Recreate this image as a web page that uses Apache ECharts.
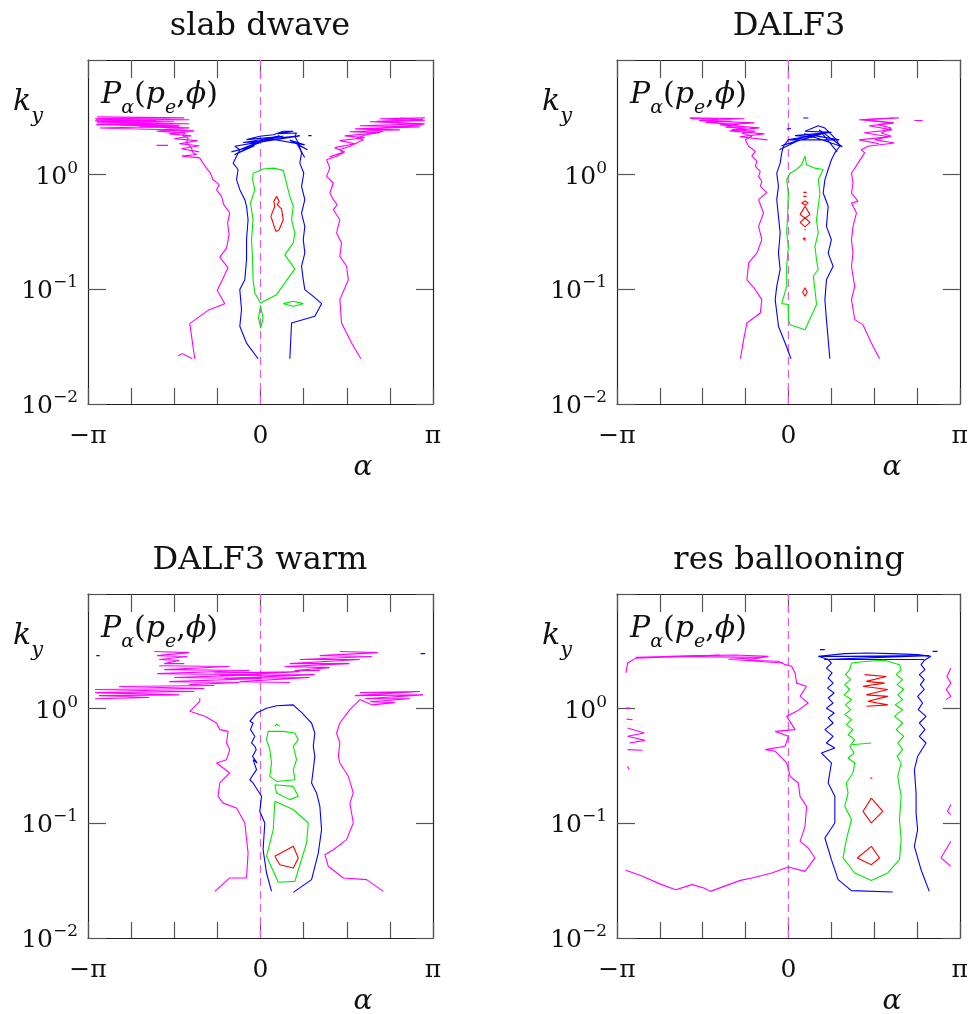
<!DOCTYPE html>
<html>
<head>
<meta charset="utf-8">
<title>P_alpha(p_e, phi) cross-phase spectra</title>
<script src="https://cdn.jsdelivr.net/npm/echarts/dist/echarts.min.js"></script>
<style>
  html, body { margin: 0; padding: 0; background: #fff; }
  #chart { width: 971px; height: 1014px; }
</style>
</head>
<body>
<div id="chart"></div>
<script>
// ---- axes: alpha in units of pi, k_y on a log scale ----
const PANEL_TITLES = ['slab dwave', 'DALF3', 'DALF3 warm', 'res ballooning'];
const ALPHA_MIN = -1, ALPHA_MAX = 1, ALPHA_STEP = 0.25;
const ALPHA_TICK_LABELS = { '-1': '−π', '0': '0', '1': 'π' };
const KY_MIN = 0.01, KY_MAX = 10;
const KY_TICK_LABELS = { '-2': '{n|10}{s|−2}', '-1': '{n|10}{s|−1}', '0': '{n|10}{s|0}', '1': '' };
const ZERO_LINE = [[0, 0.01], [0, 10]];

// ---- slab dwave ----
const slabMagentaLeft = [[-0.381,0.0248],[-0.410,0.0502],[-0.304,0.0656],[-0.207,0.0750],[-0.251,0.0978],[-0.221,0.121],[-0.188,0.154],[-0.236,0.191],[-0.197,0.229],[-0.182,0.300],[-0.191,0.379],[-0.178,0.463],[-0.213,0.548],[-0.226,0.647],[-0.255,0.740],[-0.240,0.818],[-0.275,0.904],[-0.290,1.03],[-0.313,1.14],[-0.333,1.26],[-0.352,1.40],[-0.455,1.45],[-0.370,1.50],[-0.391,1.55],[-0.400,1.71],[-0.429,1.89],[-0.420,2.09],[-0.449,2.19],[-0.439,2.31],[-0.603,2.39],[-0.439,2.44],[-0.932,2.55],[-0.468,2.64],[-0.952,2.73],[-0.507,2.78],[-0.952,2.92],[-0.603,2.97],[-0.952,3.05],[-0.778,3.12]];
const slabMagentaHatchLeft = [[-0.948,3.19],[-0.442,3.13],[-0.959,3.07],[-0.413,3.01],[-0.959,2.95],[-0.500,2.89],[-0.948,2.83],[-0.413,2.78],[-0.820,2.72],[-0.471,2.67],[-0.703,2.61],[-0.413,2.56],[-0.587,2.46],[-0.384,2.41],[-0.529,2.27],[-0.401,2.18],[-0.500,2.06],[-0.366,1.98],[-0.471,1.86],[-0.355,1.79],[-0.459,1.68],[-0.355,1.58]];
const slabMagentaFoot = [[-0.478,0.0264],[-0.453,0.0275],[-0.395,0.0248]];
const slabMagentaDash = [[-0.603,1.80],[-0.536,1.80]];
const slabMagentaRight = [[0.582,0.0248],[0.528,0.034],[0.470,0.0509],[0.460,0.0813],[0.509,0.121],[0.499,0.159],[0.460,0.194],[0.470,0.254],[0.441,0.310],[0.460,0.405],[0.422,0.495],[0.445,0.548],[0.422,0.605],[0.402,0.692],[0.422,0.846],[0.383,0.967],[0.402,1.14],[0.383,1.35],[0.441,1.45],[0.480,1.55],[0.460,1.65],[0.518,1.77],[0.596,2.02],[0.557,2.09],[0.615,2.23],[0.712,2.39],[0.615,2.47],[0.809,2.64],[0.944,2.73],[0.673,2.92],[0.944,3.02],[0.809,3.12]];
const slabMagentaHatchRight = [[0.953,3.13],[0.692,3.07],[0.953,2.95],[0.634,2.89],[0.953,2.78],[0.576,2.67],[0.924,2.61],[0.547,2.51],[0.808,2.46],[0.517,2.37],[0.692,2.32],[0.488,2.18],[0.605,2.10],[0.459,1.98],[0.547,1.86],[0.430,1.72],[0.488,1.58],[0.401,1.43]];
const slabBlue = [[-0.014,0.0248],[-0.081,0.034],[-0.120,0.0476],[-0.110,0.0665],[-0.120,0.0995],[-0.091,0.121],[-0.081,0.181],[-0.081,0.271],[-0.072,0.405],[-0.081,0.530],[-0.091,0.605],[-0.120,0.740],[-0.139,0.904],[-0.130,1.11],[-0.159,1.26],[-0.139,1.45],[-0.120,1.65],[-0.149,1.77],[0.015,1.95],[-0.101,1.91],[0.132,2.16],[-0.081,2.02],[-0.004,2.16],[0.074,2.23],[0.132,2.39],[0.190,2.39],[0.093,2.28],[0.209,2.31],[0.199,2.16],[0.219,1.89],[0.238,1.55],[0.228,1.26],[0.251,1.03],[0.238,0.791],[0.257,0.605],[0.238,0.463],[0.257,0.354],[0.248,0.271],[0.257,0.207],[0.238,0.159],[0.248,0.121],[0.257,0.0995],[0.306,0.0869],[0.354,0.0750],[0.315,0.0582],[0.180,0.0509],[0.170,0.0248]];
const slabBlueHatch = [[-0.169,1.58],[-0.035,1.79],[-0.151,1.49],[0.006,1.98],[-0.122,1.65],[0.110,2.18],[-0.064,1.86],[0.227,2.18],[0.052,2.06],[0.256,1.82],[0.169,2.01],[0.273,1.65],[0.215,1.82],[0.256,1.41]];
const slabBlueDash = [[0.277,2.19],[0.296,2.19]];
const slabGreen = [[-0.043,1.03],[0.015,1.12],[0.074,1.14],[0.132,1.09],[0.141,0.967],[0.155,0.791],[0.170,0.647],[0.190,0.530],[0.180,0.405],[0.199,0.310],[0.190,0.254],[0.141,0.200],[0.199,0.151],[0.093,0.0898],[0,0.0760],[-0.033,0.0929],[-0.043,0.121],[-0.046,0.181],[-0.052,0.271],[-0.043,0.405],[-0.058,0.566],[-0.033,0.740],[-0.046,0.904],[-0.043,1.03]];
const slabGreenDiamond = [[0.132,0.0750],[0.190,0.0786],[0.248,0.0750],[0.190,0.0711],[0.132,0.0750]];
const slabGreenDrop = [[0,0.0711],[0.015,0.0563],[0.002,0.0460],[-0.012,0.0563],[0,0.0711]];
const slabRed = [[0.093,0.647],[0.108,0.585],[0.097,0.548],[0.122,0.502],[0.132,0.405],[0.108,0.331],[0.089,0.320],[0.070,0.392],[0.060,0.433],[0.083,0.530],[0.077,0.585],[0.093,0.647]];

// ---- DALF3 ----
const dalfMagentaLeft = [[-0.571,3.08],[-0.406,3.05],[-0.522,2.97],[-0.329,2.92],[-0.484,2.86],[-0.290,2.73],[-0.368,2.60],[-0.251,2.55],[-0.329,2.47],[-0.193,2.39],[-0.271,2.31],[-0.213,2.16],[-0.251,2.02],[-0.232,1.77],[-0.193,1.60],[-0.213,1.45],[-0.184,1.31],[-0.193,1.18],[-0.164,1.07],[-0.174,0.967],[-0.155,0.875],[-0.164,0.791],[-0.126,0.701],[-0.174,0.605],[-0.145,0.463],[-0.174,0.354],[-0.155,0.271],[-0.184,0.207],[-0.232,0.170],[-0.242,0.121],[-0.193,0.0993],[-0.155,0.0813],[-0.164,0.0622],[-0.242,0.0509],[-0.261,0.0364],[-0.280,0.0248]];
const dalfMagentaHatchLeft = [[-0.576,3.13],[-0.256,3.07],[-0.517,2.95],[-0.198,2.83],[-0.401,2.72],[-0.169,2.56],[-0.343,2.41],[-0.140,2.27],[-0.285,2.14],[-0.122,2.01]];
const dalfMagentaRight = [[0.532,0.0248],[0.484,0.034],[0.435,0.0492],[0.387,0.0544],[0.368,0.0813],[0.387,0.106],[0.368,0.159],[0.377,0.207],[0.368,0.271],[0.377,0.354],[0.397,0.463],[0.368,0.566],[0.406,0.585],[0.368,0.692],[0.377,0.846],[0.368,1.03],[0.406,1.26],[0.445,1.55],[0.425,1.65],[0.464,1.77],[0.619,1.89],[0.503,2.02],[0.600,2.16],[0.542,2.31],[0.600,2.55],[0.522,2.73],[0.609,2.82],[0.445,3.02],[0.619,3.12]];
const dalfMagentaHatchRight = [[0.645,3.13],[0.413,3.01],[0.616,2.83],[0.471,2.67],[0.605,2.46],[0.442,2.32],[0.587,2.14],[0.413,2.01],[0.529,1.86]];
const dalfMagentaDash = [[0.735,2.97],[0.783,2.97]];
const dalfBlue = [[0.015,0.0248],[-0.019,0.034],[-0.058,0.0476],[-0.077,0.0813],[-0.068,0.106],[-0.048,0.149],[-0.058,0.207],[-0.048,0.310],[-0.058,0.433],[-0.068,0.605],[-0.058,0.791],[-0.068,1.03],[-0.048,1.26],[-0.039,1.55],[-0.029,1.77],[0,2.02],[0.155,2.13],[0.039,2.19],[0.251,2.34],[0.097,2.39],[0.174,2.67],[0.213,2.55],[0.251,2.23],[0.280,2.02],[0.300,1.77],[0.271,1.55],[0.251,1.35],[0.232,1.11],[0.213,0.904],[0.203,0.692],[0.232,0.530],[0.222,0.354],[0.251,0.271],[0.232,0.207],[0.261,0.159],[0.222,0.121],[0.213,0.0813],[0.222,0.0544],[0.242,0.0248]];
const dalfBlueHatch = [[-0.052,1.65],[0.064,2.01],[-0.041,1.79],[0.238,2.37],[0.006,2.01],[0.297,2.01],[0.093,2.27],[0.314,1.75],[0.180,2.46],[0.285,1.58]];
const dalfBlueDashTop = [[0.087,3.12],[0.116,3.12]];
const dalfBlueDashLeft = [[-0.010,2.50],[0.015,2.53]];
const dalfGreen = [[-0.039,0.0750],[-0.010,0.106],[-0.010,0.159],[0,0.237],[-0.010,0.310],[-0.004,0.463],[0,0.692],[-0.010,0.904],[0.010,1.03],[0.048,1.11],[0.077,1.22],[0.097,1.45],[0.106,1.22],[0.155,1.14],[0.203,1.11],[0.174,0.904],[0.184,0.692],[0.174,0.530],[0.164,0.405],[0.174,0.310],[0.155,0.237],[0.164,0.181],[0.174,0.149],[0.145,0.130],[0.155,0.0995],[0.164,0.0737],[0.097,0.0445],[0.010,0.0492],[0,0.0544],[0,0.0737],[-0.039,0.0750]];
const dalfRedDashA = [[0.087,0.701],[0.106,0.701]];
const dalfRedDashB = [[0.087,0.647],[0.106,0.647]];
const dalfRedLoop = [[0.077,0.566],[0.097,0.589],[0.116,0.566],[0.097,0.544],[0.077,0.566]];
const dalfRedChain = [[0.097,0.530],[0.126,0.448],[0.097,0.419],[0.126,0.384],[0.097,0.350],[0.068,0.384],[0.097,0.419],[0.068,0.448],[0.097,0.530]];
const dalfRedDot = [[0.093,0.331],[0.101,0.331]];
const dalfRedRing = [[0.085,0.275],[0.097,0.282],[0.104,0.275],[0.097,0.267],[0.085,0.275]];
const dalfRedDrop = [[0.097,0.103],[0.110,0.0943],[0.097,0.0869],[0.083,0.0943],[0.097,0.103]];

// ---- DALF3 warm ----
const warmBandLowerLeft = [[-0.267,1.59],[-0.820,1.56],[-0.326,1.50],[-0.959,1.47],[-0.384,1.41],[-0.959,1.38],[-0.471,1.32],[-0.936,1.30],[-0.645,1.25],[-0.959,1.22]];
const warmBandMidLeft = [[-0.587,2.37],[-0.180,2.33],[-0.558,2.19],[-0.064,2.15],[-0.599,2.02],[-0.006,1.98],[-0.500,1.87],[0.006,1.83],[-0.529,1.72],[-0.122,1.69],[-0.413,1.62]];
const warmBandUpperLeft = [[-0.616,3.15],[-0.413,3.08],[-0.599,2.90],[-0.424,2.85],[-0.587,2.68],[-0.471,2.63],[-0.558,2.47],[-0.442,2.47]];
const warmBandMiddle = [[-0.267,2.06],[0.227,2.10],[-0.238,1.94],[0.314,1.98],[-0.209,1.83],[0.285,1.87],[-0.122,1.72],[0.169,1.69]];
const warmBandUpperRight = [[0.459,3.15],[0.680,3.08],[0.343,2.90],[0.645,2.85],[0.227,2.68],[0.576,2.68],[0.169,2.47],[0.517,2.47],[0.140,2.33],[0.401,2.28],[0.198,2.15],[0.343,2.15]];
const warmBandLowerRight = [[0.576,1.38],[0.924,1.41],[0.547,1.30],[0.942,1.32],[0.605,1.22],[0.866,1.22],[0.634,1.15],[0.779,1.13],[0.645,1.08]];
const warmMagentaLeft = [[-0.352,1.24],[-0.352,1.16],[-0.410,0.948],[-0.323,0.857],[-0.255,0.750],[-0.236,0.656],[-0.188,0.634],[-0.197,0.502],[-0.178,0.439],[-0.197,0.359],[-0.255,0.336],[-0.178,0.275],[-0.236,0.225],[-0.246,0.172],[-0.217,0.150],[-0.139,0.136],[-0.091,0.1007],[-0.072,0.0551],[-0.081,0.0334],[-0.178,0.0334],[-0.265,0.0255]];
const warmMagentaRight = [[0.645,1.08],[0.576,1.20],[0.557,1.12],[0.518,0.98],[0.460,0.750],[0.441,0.614],[0.460,0.502],[0.451,0.384],[0.460,0.336],[0.509,0.257],[0.538,0.184],[0.518,0.150],[0.538,0.1007],[0.499,0.0721],[0.422,0.0589],[0.373,0.0533],[0.393,0.0422],[0.480,0.0334],[0.615,0.0323],[0.712,0.0255]];
const warmBlueDashLeft = [[-0.952,2.90],[-0.932,2.90]];
const warmBlueDashRight = [[0.928,3.02],[0.954,3.02]];
const warmBlue = [[0.064,0.0255],[0.035,0.0369],[0.015,0.0589],[0.025,0.1007],[-0.004,0.127],[0.006,0.172],[-0.043,0.225],[-0.062,0.240],[-0.023,0.294],[-0.043,0.359],[-0.019,0.336],[-0.046,0.384],[-0.025,0.439],[-0.033,0.470],[-0.052,0.502],[-0.033,0.574],[-0.058,0.656],[-0.043,0.750],[-0.062,0.776],[-0.023,0.916],[0.035,1.01],[0.093,1.06],[0.190,1.08],[0.219,0.98],[0.238,0.929],[0.277,0.802],[0.296,0.750],[0.315,0.614],[0.306,0.470],[0.315,0.384],[0.306,0.294],[0.296,0.225],[0.325,0.184],[0.344,0.141],[0.354,0.0881],[0.335,0.0551],[0.296,0.0323],[0.190,0.0250]];
const warmGreenUpper = [[0.044,0.634],[0.132,0.634],[0.199,0.614],[0.219,0.537],[0.190,0.470],[0.209,0.359],[0.190,0.294],[0.199,0.240],[0.093,0.232],[0.054,0.257],[0.064,0.336],[0.054,0.439],[0.035,0.537],[0.044,0.634]];
const warmGreenTick = [[0.083,0.701],[0.093,0.735],[0.112,0.701]];
const warmGreenMiddle = [[0.083,0.217],[0.190,0.210],[0.219,0.172],[0.170,0.161],[0.093,0.184],[0.083,0.217]];
const warmGreenLower = [[0.083,0.156],[0.190,0.132],[0.277,0.1007],[0.267,0.0674],[0.199,0.0312],[0.103,0.0306],[0.035,0.0516],[0.074,0.0881],[0.083,0.156]];
const warmRed = [[0.083,0.0516],[0.190,0.0630],[0.219,0.0499],[0.190,0.0408],[0.112,0.0436],[0.083,0.0516]];

// ---- res ballooning ----
const resMagentaMain = [[-0.948,2.05],[-0.938,2.50],[-0.890,2.76],[-0.880,2.86],[-0.503,2.90],[-0.309,2.94],[-0.116,2.86],[-0.251,2.64],[-0.058,2.59],[-0.019,2.42],[0.019,2.34],[0.039,2.05],[0.048,1.67],[0.106,1.57],[0.068,1.28],[0.116,1.12],[0.048,0.948],[-0.010,0.857],[0.039,0.656],[-0.077,0.634],[0,0.574],[-0.019,0.470],[-0.135,0.439],[-0.077,0.425],[-0.010,0.336],[0.010,0.257],[0.058,0.225],[0.068,0.172],[0.106,0.141],[0.097,0.0941],[0.068,0.0697],[0.116,0.0610],[0.155,0.0499],[0.097,0.0381],[0,0.0416],[-0.097,0.0369],[-0.213,0.0334],[-0.280,0.0318],[-0.348,0.0292],[-0.455,0.0255],[-0.493,0.0273],[-0.561,0.0292],[-0.658,0.0264],[-0.754,0.0298],[-0.851,0.0345],[-0.948,0.0389]];
const resMagentaTopRow = [[-0.890,2.80],[-0.400,2.92],[-0.700,2.86],[-0.150,2.80],[-0.350,2.70],[-0.030,2.50]];
const resMagentaEdgeHatch = [[-0.938,0.678],[-0.841,0.614],[-0.938,0.574],[-0.836,0.529],[-0.928,0.502]];
const resMagentaEdgeA = [[-0.948,1.01],[-0.923,1.01]];
const resMagentaEdgeB = [[-0.944,0.81],[-0.909,0.80]];
const resMagentaEdgeC = [[-0.938,0.439],[-0.851,0.434]];
const resMagentaEdgeD = [[-0.938,0.314],[-0.928,0.294]];
const resMagentaRightHatch = [[0.948,2.26],[0.925,1.91],[0.948,1.67],[0.921,1.47],[0.948,1.28],[0.919,1.20]];
const resMagentaRightA = [[0.948,0.146],[0.928,0.127],[0.948,0.119]];
const resMagentaRightB = [[0.948,0.0697],[0.890,0.0499],[0.948,0.0422]];
const resBlue = [[0.609,0.0252],[0.368,0.0259],[0.290,0.0323],[0.251,0.0482],[0.213,0.0745],[0.271,0.1007],[0.271,0.172],[0.232,0.225],[0.251,0.336],[0.193,0.410],[0.271,0.454],[0.222,0.502],[0.261,0.574],[0.213,0.656],[0.261,0.750],[0.232,0.830],[0.267,0.916],[0.222,1.01],[0.261,1.12],[0.232,1.24],[0.267,1.37],[0.228,1.51],[0.261,1.67],[0.232,1.85],[0.255,2.05],[0.222,2.26],[0.251,2.50],[0.232,2.68],[0.174,2.86],[0.329,3.02],[0.464,3.06],[0.600,3.02],[0.754,2.96],[0.832,2.86],[0.793,2.64],[0.774,2.42],[0.797,2.19],[0.764,1.98],[0.793,1.79],[0.770,1.62],[0.793,1.47],[0.754,1.28],[0.783,1.12],[0.758,0.98],[0.803,0.857],[0.764,0.750],[0.797,0.656],[0.764,0.574],[0.803,0.502],[0.754,0.384],[0.735,0.294],[0.745,0.184],[0.745,0.123],[0.754,0.0881],[0.735,0.0630],[0.774,0.0394],[0.822,0.0255]];
const resBlueTopRow = [[0.180,2.85],[0.820,2.90],[0.209,2.68],[0.791,2.68]];
const resBlueDashLeft = [[0.184,3.27],[0.213,3.27]];
const resBlueDashRight = [[0.841,3.16],[0.870,3.16]];
const resGreen = [[0.368,2.50],[0.464,2.59],[0.561,2.64],[0.648,2.42],[0.658,2.19],[0.629,1.98],[0.667,1.79],[0.634,1.62],[0.673,1.47],[0.638,1.32],[0.667,1.20],[0.623,1.08],[0.667,0.98],[0.619,0.857],[0.667,0.750],[0.629,0.656],[0.673,0.574],[0.638,0.502],[0.667,0.439],[0.634,0.384],[0.658,0.336],[0.638,0.257],[0.658,0.172],[0.648,0.108],[0.658,0.0721],[0.648,0.0482],[0.580,0.0369],[0.484,0.0318],[0.387,0.0369],[0.319,0.0499],[0.338,0.0721],[0.368,0.108],[0.329,0.141],[0.348,0.184],[0.338,0.225],[0.377,0.275],[0.387,0.336],[0.348,0.371],[0.383,0.410],[0.358,0.470],[0.387,0.537],[0.348,0.593],[0.377,0.656],[0.338,0.725],[0.368,0.802],[0.329,0.887],[0.364,0.98],[0.333,1.08],[0.368,1.20],[0.325,1.32],[0.358,1.47],[0.329,1.62],[0.364,1.79],[0.333,1.98],[0.358,2.19],[0.368,2.50]];
const resGreenDash = [[0.368,0.485],[0.484,0.502]];
const resRedHatch = [[0.445,1.98],[0.571,1.91],[0.455,1.73],[0.561,1.67],[0.435,1.57],[0.580,1.47],[0.455,1.32],[0.580,1.28],[0.464,1.16],[0.580,1.08],[0.455,1.05]];
const resRedDot = [[0.478,0.248],[0.490,0.248]];
const resRedUpper = [[0.484,0.166],[0.551,0.127],[0.484,0.1007],[0.435,0.127],[0.484,0.166]];
const resRedLower = [[0.484,0.0630],[0.532,0.0499],[0.484,0.0436],[0.402,0.0499],[0.484,0.0630]];

// ---- contour groups per panel (colour order: lowest to highest level) ----
const COLORS = { magenta: '#ff00ff', blue: '#0000ff', green: '#00e800', red: '#ff0000' };
const PANEL_CONTOURS = [
  { magenta: [slabMagentaLeft, slabMagentaHatchLeft, slabMagentaFoot, slabMagentaDash, slabMagentaRight, slabMagentaHatchRight],
    blue: [slabBlue, slabBlueHatch, slabBlueDash],
    green: [slabGreen, slabGreenDiamond, slabGreenDrop],
    red: [slabRed] },
  { magenta: [dalfMagentaLeft, dalfMagentaHatchLeft, dalfMagentaRight, dalfMagentaHatchRight, dalfMagentaDash],
    blue: [dalfBlue, dalfBlueHatch, dalfBlueDashTop, dalfBlueDashLeft],
    green: [dalfGreen],
    red: [dalfRedDashA, dalfRedDashB, dalfRedLoop, dalfRedChain, dalfRedDot, dalfRedRing, dalfRedDrop] },
  { magenta: [warmBandLowerLeft, warmBandMidLeft, warmBandUpperLeft, warmBandMiddle, warmBandUpperRight, warmBandLowerRight, warmMagentaLeft, warmMagentaRight],
    blue: [warmBlue, warmBlueDashLeft, warmBlueDashRight],
    green: [warmGreenUpper, warmGreenTick, warmGreenMiddle, warmGreenLower],
    red: [warmRed] },
  { magenta: [resMagentaMain, resMagentaTopRow, resMagentaEdgeHatch, resMagentaEdgeA, resMagentaEdgeB, resMagentaEdgeC, resMagentaEdgeD, resMagentaRightHatch, resMagentaRightA, resMagentaRightB],
    blue: [resBlue, resBlueTopRow, resBlueDashLeft, resBlueDashRight],
    green: [resGreen, resGreenDash],
    red: [resRedHatch, resRedDot, resRedUpper, resRedLower] }
];

// ---- layout ----
const FONT = '"DejaVu Serif", "Liberation Serif", serif';
const GRID_POS = [[88, 60], [617, 60], [88, 594], [617, 594]];
const GRID_SIZE = 345;
const FRAME = '#222';
const TICK = '#555';

const grids = [], xAxes = [], yAxes = [], series = [], graphics = [];

GRID_POS.forEach(([left, top], i) => {
  grids.push({ left: left, top: top, width: GRID_SIZE, height: GRID_SIZE - 1, containLabel: false });

  const xBase = {
    gridIndex: i, type: 'value', min: ALPHA_MIN, max: ALPHA_MAX, interval: ALPHA_STEP,
    splitLine: { show: false },
    axisLine: { show: true, onZero: false, lineStyle: { color: FRAME, width: 1.2 } }
  };
  xAxes.push(Object.assign({}, xBase, {
    position: 'bottom',
    axisTick: { inside: true, length: 16, lineStyle: { color: TICK, width: 1.2 } },
    axisLabel: {
      show: true, margin: 20, showMinLabel: true, showMaxLabel: true,
      fontFamily: FONT, fontSize: 25, color: '#111',
      formatter: v => ALPHA_TICK_LABELS[String(Math.round(v * 4) / 4)] || ''
    }
  }));
  xAxes.push(Object.assign({}, xBase, {
    position: 'top',
    axisTick: { inside: true, length: 18, lineStyle: { color: TICK, width: 1.2 } },
    axisLabel: { show: false }
  }));

  const yBase = {
    gridIndex: i, type: 'log', logBase: 10, min: KY_MIN, max: KY_MAX,
    splitLine: { show: false }, minorTick: { show: false },
    axisLine: { show: true, onZero: false, lineStyle: { color: FRAME, width: 1.2 } }
  };
  yAxes.push(Object.assign({}, yBase, {
    position: 'left',
    axisTick: { inside: true, length: 18, lineStyle: { color: TICK, width: 1.2 } },
    axisLabel: {
      show: true, margin: 10, showMinLabel: true, showMaxLabel: true,
      formatter: v => KY_TICK_LABELS[String(Math.round(Math.log10(v)))] || '',
      rich: {
        n: { fontFamily: FONT, fontSize: 25, color: '#111', verticalAlign: 'bottom', lineHeight: 30 },
        s: { fontFamily: FONT, fontSize: 17, color: '#111', verticalAlign: 'bottom', lineHeight: 20, padding: [0, 0, 13, 0] }
      }
    }
  }));
  yAxes.push(Object.assign({}, yBase, {
    position: 'right',
    axisTick: { inside: true, length: 17, lineStyle: { color: TICK, width: 1.2 } },
    axisLabel: { show: false }
  }));

  // dashed reference line at alpha = 0
  series.push({
    type: 'line', xAxisIndex: 2 * i, yAxisIndex: 2 * i, data: ZERO_LINE,
    symbol: 'none', silent: true, animation: false, z: 1,
    lineStyle: { color: '#e45ee4', width: 1.2, type: [8, 5] }
  });

  const groups = PANEL_CONTOURS[i];
  ['magenta', 'blue', 'green', 'red'].forEach((c, k) => {
    groups[c].forEach(line => {
      series.push({
        type: 'line', xAxisIndex: 2 * i, yAxisIndex: 2 * i, data: line,
        symbol: 'none', silent: true, animation: false, clip: true, z: 2 + k,
        lineStyle: { color: COLORS[c], width: 1.1 }
      });
    });
  });

  // panel title and axis annotations
  graphics.push({
    type: 'text', x: left + 172, y: top - 33,
    style: { text: PANEL_TITLES[i], font: '32px ' + FONT, fill: '#111', align: 'center', verticalAlign: 'middle' }
  });
  graphics.push({
    type: 'text', x: left - 75, y: top + 50,
    style: {
      text: '{k|k}{y|y}', align: 'left', verticalAlign: 'middle',
      rich: {
        k: { font: 'italic 30px ' + FONT, fill: '#111', verticalAlign: 'bottom', lineHeight: 34, padding: [0, 0, 10, 0] },
        y: { font: 'italic 21px ' + FONT, fill: '#111', verticalAlign: 'bottom', lineHeight: 24 }
      }
    }
  });
  graphics.push({
    type: 'text', x: left + 13, y: top + 40,
    style: {
      text: '{i|P}{s|α}{r|(}{i|p}{s|e}{r|,}{i|ϕ}{r|)}', align: 'left', verticalAlign: 'middle',
      rich: {
        i: { font: 'italic 30px ' + FONT, fill: '#111', verticalAlign: 'bottom', lineHeight: 36, padding: [0, 0, 8, 0] },
        r: { font: '30px ' + FONT, fill: '#111', verticalAlign: 'bottom', lineHeight: 36, padding: [0, 0, 8, 0] },
        s: { font: 'italic 19px ' + FONT, fill: '#111', verticalAlign: 'bottom', lineHeight: 24 }
      }
    }
  });
  graphics.push({
    type: 'text', x: left + 275, y: top + 408,
    style: { text: 'α', font: 'italic 28px ' + FONT, fill: '#111', align: 'center', verticalAlign: 'middle' }
  });
});

const chart = echarts.init(document.getElementById('chart'), null, { renderer: 'canvas', width: 971, height: 1014 });
chart.setOption({
  backgroundColor: '#ffffff',
  animation: false,
  grid: grids,
  xAxis: xAxes,
  yAxis: yAxes,
  series: series,
  graphic: graphics
});
</script>
</body>
</html>
